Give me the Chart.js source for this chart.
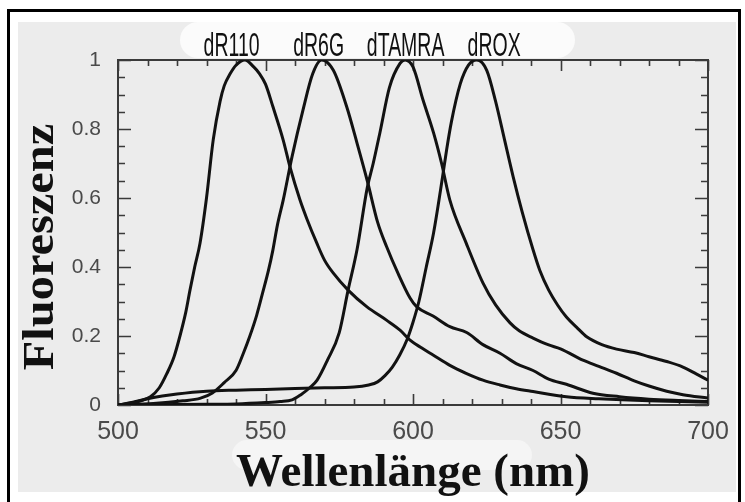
<!DOCTYPE html>
<html>
<head>
<meta charset="utf-8">
<script src="https://cdn.jsdelivr.net/npm/chart.js@4.4.1/dist/chart.umd.min.js"></script>
<style>
html, body { margin: 0; padding: 0; background: #fff; }
#wrap { width: 745px; height: 502px; }
</style>
</head>
<body>
<div id="wrap"><canvas id="spectra" width="745" height="502"></canvas></div>
<script>
// emission spectra
const dyeNames = ['dR110', 'dR6G', 'dTAMRA', 'dROX'];
const labelNm = [538.5, 568, 597.5, 627.5]; // where the names sit above the plot

const r110Nm = [500,504,508,511,514,516.5,519,521,523,524.4,526,527.8,530,532.3,534.6,536,538,540,543,546,548,550,552.5,556,558.3,561.7,564,567.4,570,573,578,584.3,591,595.6,599,603,606.8,612.5,618,623.7,629.5,635,640.7,652,663,680,700];
const r110Val = [0,0.005,0.013,0.024,0.05,0.09,0.14,0.2,0.27,0.333,0.4,0.469,0.6,0.77,0.88,0.925,0.96,0.985,1,0.98,0.96,0.93,0.865,0.768,0.69,0.594,0.54,0.469,0.42,0.382,0.333,0.285,0.246,0.217,0.188,0.165,0.145,0.115,0.092,0.072,0.058,0.047,0.039,0.024,0.018,0.012,0.008];

const r6gNm = [500,512,522,528,532,536,540,542.5,544.7,547,549,551,552.5,554,556,559,562.7,566,569,573,577.5,581,584.5,588,591,595,599,601.2,606.8,612.5,618.2,623.7,629.5,635,640.7,646,652,661,670,680,690,700];
const r6gVal = [0,0.004,0.012,0.02,0.035,0.065,0.1,0.15,0.2,0.26,0.324,0.39,0.449,0.52,0.594,0.72,0.855,0.96,1,0.97,0.865,0.76,0.65,0.53,0.46,0.38,0.31,0.285,0.258,0.227,0.21,0.175,0.15,0.12,0.1,0.075,0.06,0.034,0.024,0.017,0.013,0.01];

const tamraNm = [500,530,540,550,555,559,562,565,567.5,571,575,578,581,584.5,586.5,588.8,592,595.6,597.3,600,603.4,607,609.7,612.5,618,623.7,628,632.9,636,640.7,646,650,657.6,663,669,675,680,686,691.5,700];
const tamraVal = [0,0.002,0.003,0.007,0.01,0.015,0.03,0.05,0.072,0.13,0.21,0.333,0.449,0.63,0.7,0.79,0.92,0.99,1,0.98,0.884,0.788,0.7,0.594,0.47,0.354,0.29,0.238,0.215,0.194,0.174,0.163,0.13,0.112,0.092,0.07,0.055,0.04,0.03,0.02];

const roxNm = [500,505,510,515,520,530,540,550,560,570,580,585,588,590.5,593,595.5,598,600,602,604.5,607,610,611.4,613,616,618.8,621.6,625,628,631,634,637,640.7,643,646,649,652,655.5,659,664,669,675,680,686,691.5,696,700];
const roxVal = [0,0.008,0.018,0.026,0.032,0.04,0.043,0.045,0.048,0.05,0.052,0.058,0.067,0.085,0.11,0.145,0.19,0.24,0.3,0.4,0.5,0.66,0.74,0.82,0.93,0.985,1,0.97,0.88,0.77,0.66,0.56,0.45,0.39,0.333,0.29,0.255,0.225,0.197,0.175,0.162,0.152,0.14,0.126,0.11,0.09,0.072];

const xTickLabels = [500, 550, 600, 650, 700];
const yTickLabels = [0, 0.2, 0.4, 0.6, 0.8, 1];

const xTitle = 'Wellenlänge (nm)';
const yTitle = 'Fluoreszenz';

const toPoints = (xs, ys) => xs.map((x, i) => ({x: x, y: ys[i]}));
const seriesData = [
  toPoints(r110Nm, r110Val),
  toPoints(r6gNm, r6gVal),
  toPoints(tamraNm, tamraVal),
  toPoints(roxNm, roxVal)
];

const inkColor = '#121212';
const axisColor = '#3a3a3a';

// scanned-page look: grey paper, white patches, black frame
const paperPlugin = {
  id: 'paper',
  beforeDraw(chart) {
    const c = chart.ctx;
    c.save();
    c.fillStyle = '#fff';
    c.fillRect(0, 0, chart.width, chart.height);
    c.fillStyle = '#ececec';
    c.fillRect(18, 22, 718, 470);
    c.fillStyle = '#fbfbfb';
    c.beginPath();
    c.roundRect(180, 22, 395, 36, 18);
    c.fill();
    c.fillStyle = '#f5f5f5';
    c.beginPath();
    c.roundRect(232, 440, 300, 30, 15);
    c.fill();
    c.fillStyle = '#000';
    c.fillRect(7, 9, 3, 493);
    c.fillRect(7, 9, 734, 3);
    c.fillRect(738, 9, 3, 493);
    c.restore();
  }
};

// boxed axes with inward ticks on all four sides
const frameTicksPlugin = {
  id: 'frameTicks',
  beforeDatasetsDraw(chart) {
    const {ctx: c, chartArea: a, scales: {x, y}} = chart;
    c.save();
    c.strokeStyle = axisColor;
    c.lineWidth = 2;
    c.strokeRect(a.left, a.top, a.right - a.left, a.bottom - a.top);
    c.lineWidth = 1.6;
    c.beginPath();
    for (let nm = 500; nm <= 700; nm += 10) {
      const px = Math.round(x.getPixelForValue(nm)) + 0.5;
      const len = nm % 50 === 0 ? 11 : 6;
      c.moveTo(px, a.bottom); c.lineTo(px, a.bottom - len);
      c.moveTo(px, a.top); c.lineTo(px, a.top + len);
    }
    for (let i = 0; i <= 20; i++) {
      const v = i * 0.05;
      const py = Math.round(y.getPixelForValue(v)) + 0.5;
      const len = i % 4 === 0 ? 13 : 7;
      c.moveTo(a.left, py); c.lineTo(a.left + len, py);
      c.moveTo(a.right, py); c.lineTo(a.right - len, py);
    }
    c.stroke();
    c.restore();
  },
  afterDraw(chart) {
    const {ctx: c, chartArea: a, scales: {x}} = chart;
    c.save();
    c.fillStyle = '#111';
    // dye names, narrow face
    c.font = '33px "Liberation Sans", Arial, sans-serif';
    c.textAlign = 'center';
    c.textBaseline = 'alphabetic';
    dyeNames.forEach((name, i) => {
      c.save();
      c.translate(x.getPixelForValue(labelNm[i]), 56);
      c.scale(0.59, 1);
      c.fillText(name, 0, 0);
      c.restore();
    });
    // axis titles
    c.font = 'bold 47px "Liberation Serif", "Times New Roman", serif';
    c.fillText(xTitle, (a.left + a.right) / 2, 486);
    c.save();
    c.font = 'bold 44px "Liberation Serif", "Times New Roman", serif';
    c.translate(53, 247);
    c.rotate(-Math.PI / 2);
    c.scale(1.1, 1);
    c.fillText(yTitle, 0, 0);
    c.restore();
    c.restore();
  }
};

const chart = new Chart(document.getElementById('spectra'), {
  type: 'line',
  data: {
    datasets: seriesData.map((pts, i) => ({
      label: dyeNames[i],
      data: pts,
      borderColor: inkColor,
      borderWidth: 3,
      pointRadius: 0,
      fill: false,
      cubicInterpolationMode: 'monotone'
    }))
  },
  options: {
    responsive: false,
    animation: false,
    devicePixelRatio: 1,
    layout: { padding: { top: 60, right: 37, left: 0, bottom: 0 } },
    plugins: { legend: { display: false }, tooltip: { enabled: false } },
    scales: {
      x: {
        type: 'linear',
        min: 500,
        max: 700,
        afterFit: (s) => { s.height = 97; },
        afterBuildTicks: (s) => { s.ticks = xTickLabels.map(v => ({value: v})); },
        grid: { display: false, drawTicks: false },
        border: { display: false },
        ticks: {
          padding: 12,
          color: '#4a4a4a',
          font: { family: '"Liberation Sans", Arial, sans-serif', size: 25 },
          callback: (v) => String(v)
        }
      },
      y: {
        type: 'linear',
        min: 0,
        max: 1,
        afterFit: (s) => { s.width = 118; },
        afterBuildTicks: (s) => { s.ticks = yTickLabels.map(v => ({value: v})); },
        grid: { display: false, drawTicks: false },
        border: { display: false },
        ticks: {
          padding: 17,
          color: '#4a4a4a',
          font: { family: '"Liberation Sans", Arial, sans-serif', size: 21 },
          callback: (v) => (v === 0 || v === 1) ? String(v) : v.toFixed(1)
        }
      }
    }
  },
  plugins: [paperPlugin, frameTicksPlugin]
});
</script>
</body>
</html>
